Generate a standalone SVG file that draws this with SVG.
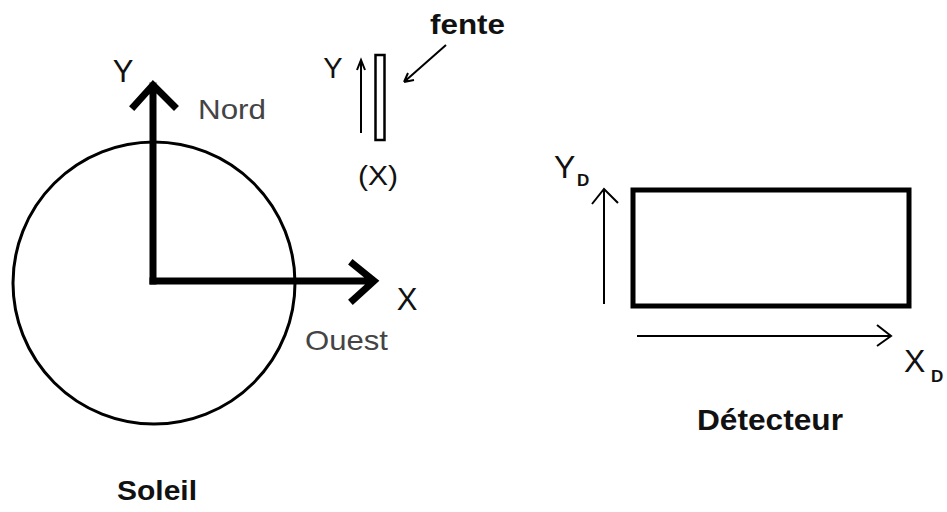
<svg xmlns="http://www.w3.org/2000/svg" width="947" height="512" viewBox="0 0 947 512">
<style>
.t{font-family:"Liberation Sans",Arial,sans-serif;fill:#111}
.g{font-family:"Liberation Sans",Arial,sans-serif;fill:#444}
.b{font-family:"Liberation Sans",Arial,sans-serif;font-weight:bold;fill:#111}
.thick{stroke:#000;stroke-width:7;fill:none;stroke-linecap:square}
.thin{stroke:#000;stroke-width:2;fill:none}
</style>
<rect width="947" height="512" fill="#fff"/>
<g id="soleil">
<circle cx="154" cy="283" r="141" fill="none" stroke="#000" stroke-width="3"/>
<text class="b" x="117" y="500" font-size="28" textLength="80" lengthAdjust="spacingAndGlyphs">Soleil</text>
</g>
<g id="axes-soleil">
<path class="thick" d="M153 281 V86 M134 106 L153 85 L174 106"/>
<path class="thick" d="M153 281 H372 M353 264 L374 281 L353 300"/>
<text class="t" x="123" y="82" font-size="31" text-anchor="middle">Y</text>
<text class="g" x="198" y="119" font-size="28" textLength="68" lengthAdjust="spacingAndGlyphs">Nord</text>
<text class="t" x="407" y="310" font-size="31" text-anchor="middle">X</text>
<text class="g" x="305" y="350" font-size="28" textLength="83" lengthAdjust="spacingAndGlyphs">Ouest</text>
</g>
<g id="fente">
<rect x="375.5" y="55" width="9" height="85" fill="none" stroke="#000" stroke-width="2.5"/>
<path class="thin" d="M361 133 V61 M357 70 L361 60 L365 70"/>
<text class="t" x="333" y="78" font-size="29" text-anchor="middle">Y</text>
<text class="t" x="358" y="185" font-size="28" textLength="40" lengthAdjust="spacingAndGlyphs">(X)</text>
<text class="b" x="430" y="34" font-size="28" textLength="75" lengthAdjust="spacingAndGlyphs">fente</text>
<path class="thin" stroke-width="2.5" d="M446 45 L404 82 M404 82 L414 80 M404 82 L408 73"/>
</g>
<g id="detecteur">
<rect x="633" y="190" width="276" height="116" fill="none" stroke="#000" stroke-width="5"/>
<path class="thin" stroke-width="3" d="M604 304 V190 M592 204 L604 189 L618 203"/>
<path class="thin" stroke-width="3" d="M637 336 H890 M877 325 L891 336 L877 346"/>
<text class="t" x="554" y="178" font-size="32">Y</text>
<text class="b" x="577" y="186" font-size="17">D</text>
<text class="t" x="904" y="372" font-size="32">X</text>
<text class="b" x="931" y="382" font-size="17">D</text>
<text class="b" x="697" y="430" font-size="29" textLength="146" lengthAdjust="spacingAndGlyphs">Détecteur</text>
</g>
</svg>
